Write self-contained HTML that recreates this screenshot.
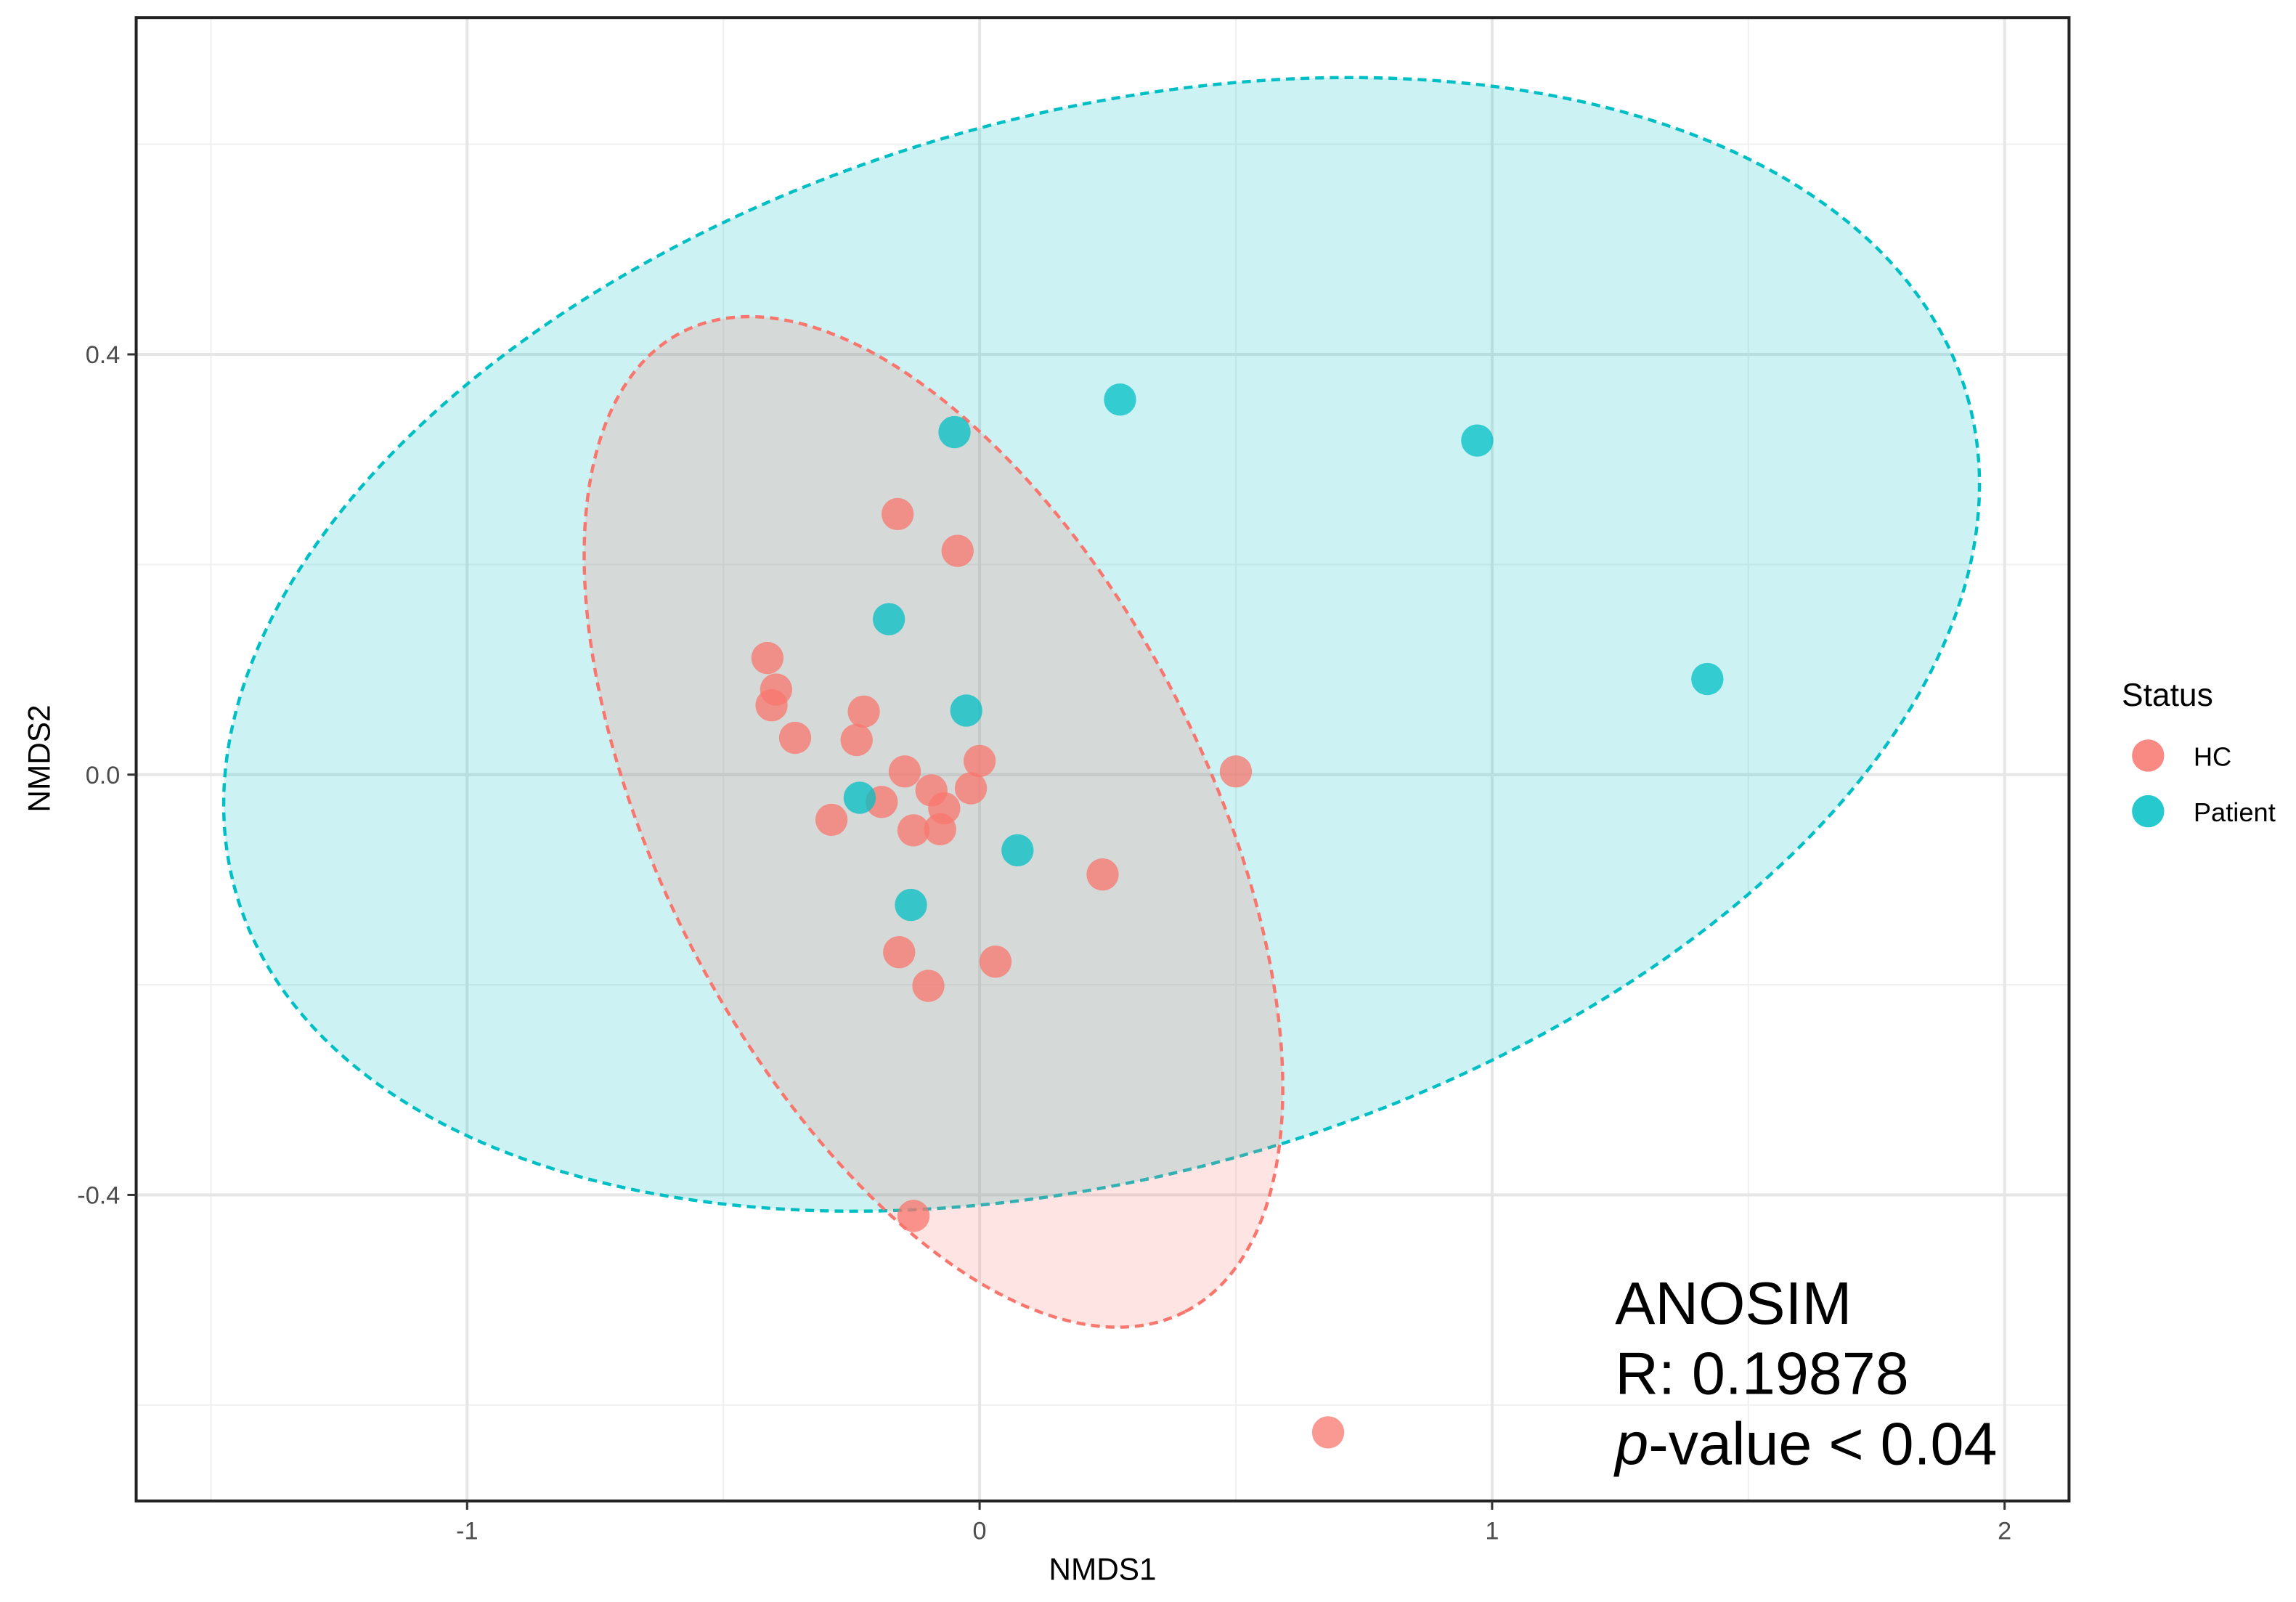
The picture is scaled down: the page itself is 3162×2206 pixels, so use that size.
<!DOCTYPE html>
<html><head><meta charset="utf-8"><style>
html,body{margin:0;padding:0;background:#fff;}
svg{display:block;font-family:"Liberation Sans",sans-serif;}
</style></head><body>
<svg id="chart" width="3162" height="2206" viewBox="0 0 1568 1094" preserveAspectRatio="none">
<g id="grid"></g>
<g id="ellipses"></g>
<g id="points"></g>
<rect x="93" y="12" width="1320" height="1013" fill="none" stroke="#222" stroke-width="2"/>
<g id="ticks"></g>
<text x="753" y="1079" font-size="21" text-anchor="middle" fill="#000">NMDS1</text>
<text transform="translate(34,518) rotate(-90)" font-size="21" text-anchor="middle" fill="#000">NMDS2</text>
<g>
<text x="1449" y="482" font-size="22" fill="#000">Status</text>
<circle cx="1467" cy="516" r="11" fill="#F8766D" fill-opacity="0.85"/>
<text x="1498" y="523" font-size="18" fill="#000">HC</text>
<circle cx="1467" cy="554" r="11" fill="#00BFC4" fill-opacity="0.85"/>
<text x="1498" y="561" font-size="18" fill="#000">Patient</text>
</g>
<g font-size="41" fill="#000">
<text x="1103" y="904">ANOSIM</text>
<text x="1103" y="952">R: 0.19878</text>
<text x="1103" y="1000"><tspan font-style="italic">p</tspan>-value &lt; 0.04</text>
</g>
</svg>
<script>
const xTicks=[-1,0,1,2];
const xTickLabels=["-1","0","1","2"];
const xMinor=[-1.5,-0.5,0.5,1.5];
const yTicks=[-0.4,0.0,0.4];
const yTickLabels=["-0.4","0.0","0.4"];
const yMinor=[-0.6,-0.2,0.2,0.6];
const hcX=[-0.16,-0.043,-0.414,-0.397,-0.406,-0.36,-0.226,-0.24,-0.146,0.0,-0.094,-0.017,-0.069,-0.191,-0.289,-0.129,-0.077,0.5,0.24,-0.157,0.031,-0.1,-0.129,0.68];
const hcY=[0.248,0.213,0.111,0.081,0.066,0.035,0.060,0.033,0.003,0.013,-0.015,-0.013,-0.032,-0.026,-0.043,-0.053,-0.052,0.003,-0.095,-0.169,-0.178,-0.201,-0.42,-0.626];
const ptX=[-0.049,0.274,0.971,1.42,-0.177,-0.026,-0.234,0.074,-0.134];
const ptY=[0.326,0.357,0.318,0.091,0.148,0.061,-0.022,-0.072,-0.124];
const NS="http://www.w3.org/2000/svg";
function x(v){return 669+v*350;}
function y(v){return 529-v*717.5;}
function mk(tag,attrs,parent){const e=document.createElementNS(NS,tag);for(const k in attrs)e.setAttribute(k,attrs[k]);document.getElementById(parent).appendChild(e);return e;}
xMinor.forEach(v=>{const l=mk('line',{x1:x(v),x2:x(v),y1:12,y2:1025,stroke:'#f0f0f0','stroke-width':1},'grid');

});
yMinor.forEach(v=>{const l=mk('line',{x1:93,x2:1413,y1:y(v),y2:y(v),stroke:'#f0f0f0','stroke-width':1},'grid');

});
xTicks.forEach((v,i)=>{const l=mk('line',{x1:x(v),x2:x(v),y1:12,y2:1025,stroke:'#e6e6e6','stroke-width':2},'grid');


const t=mk('line',{x1:x(v),x2:x(v),y1:1025,y2:1031,stroke:'#333','stroke-width':1.5},'ticks');


const tx=mk('text',{x:x(v),y:1051,'font-size':17,'text-anchor':'middle',fill:'#4d4d4d'},'ticks');tx.textContent=xTickLabels[i];

});
yTicks.forEach((v,i)=>{const l=mk('line',{x1:93,x2:1413,y1:y(v),y2:y(v),stroke:'#e6e6e6','stroke-width':2},'grid');


const t=mk('line',{x1:87,x2:93,y1:y(v),y2:y(v),stroke:'#333','stroke-width':1.5},'ticks');


const tx=mk('text',{x:82,y:y(v)+6,'font-size':17,'text-anchor':'end',fill:'#4d4d4d'},'ticks');tx.textContent=yTickLabels[i];

});
const pe=mk('ellipse',{cx:x(0.238),cy:y(0.124),rx:615,ry:362,transform:`rotate(-16 ${x(0.238)} ${y(0.124)})`,fill:'#00BFC4','fill-opacity':0.2,stroke:'#00BFC4','stroke-width':2.2,'stroke-dasharray':'6,4'},'ellipses');


const he=mk('ellipse',{cx:x(-0.09),cy:y(-0.045),rx:376,ry:186,transform:`rotate(62.8 ${x(-0.09)} ${y(-0.045)})`,fill:'#F8766D','fill-opacity':0.2,stroke:'#F8766D','stroke-width':2.2,'stroke-dasharray':'6,4'},'ellipses');


hcX.forEach((v,i)=>{const c=mk('circle',{cx:x(v),cy:y(hcY[i]),r:11,fill:'#F8766D','fill-opacity':0.75},'points');

});
ptX.forEach((v,i)=>{const c=mk('circle',{cx:x(v),cy:y(ptY[i]),r:11,fill:'#00BFC4','fill-opacity':0.75},'points');

});
</script>
</body></html>
